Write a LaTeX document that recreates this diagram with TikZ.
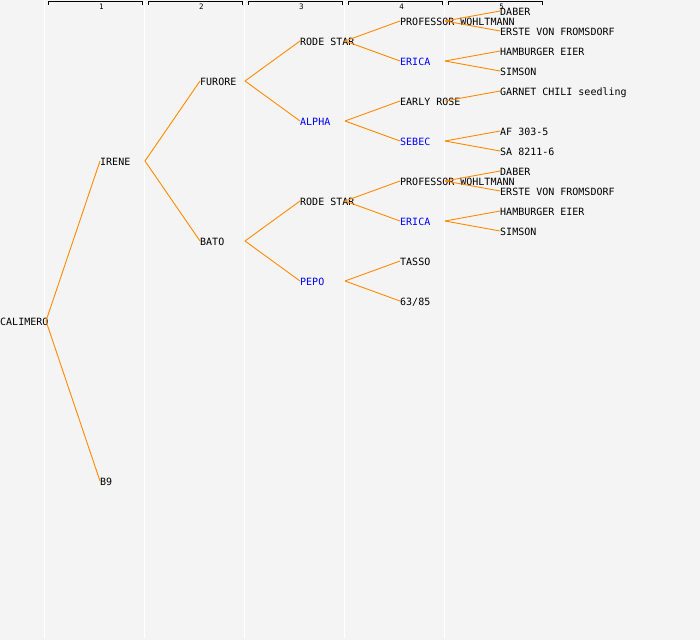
\documentclass[tikz,border=0pt]{standalone}
\usepackage{fontspec}
\setmonofont{DejaVu Sans Mono}
\usepackage{tikz}
\definecolor{bggray}{RGB}{244,244,244}
\definecolor{linkorange}{RGB}{255,136,0}
\definecolor{dambue}{RGB}{0,0,255}
\tikzset{
  plant/.style={anchor=west,inner sep=0pt,text height=9pt,text depth=0pt,
    font=\fontsize{10}{12}\selectfont\ttfamily},
  dam/.style={plant,text=dambue},
  link/.style={draw=linkorange,line width=0.9pt},
  gen/.style={inner sep=0pt,font=\fontsize{7.5}{8}\selectfont\ttfamily},
  sep/.style={draw=white,line width=1.5pt},
  bracket/.style={draw=black,line width=1pt}
}
\begin{document}
\begin{tikzpicture}[x=1pt,y=-1pt]
\fill[bggray] (0,0) rectangle (700,640);
\useasboundingbox (0,0) rectangle (700,640);
%%columns
\draw[sep] (44.5,0) -- (44.5,638);
\draw[sep] (144.5,0) -- (144.5,638);
\draw[sep] (244.5,0) -- (244.5,638);
\draw[sep] (344.5,0) -- (344.5,638);
\draw[sep] (444.5,0) -- (444.5,638);
%%generation header
\draw[bracket] (48,4.5) -- (48,1.5) -- (142,1.5) -- (142,4.5);
\draw[bracket] (148,4.5) -- (148,1.5) -- (242,1.5) -- (242,4.5);
\draw[bracket] (248,4.5) -- (248,1.5) -- (342,1.5) -- (342,4.5);
\draw[bracket] (348,4.5) -- (348,1.5) -- (442,1.5) -- (442,4.5);
\draw[bracket] (448,4.5) -- (448,1.5) -- (542,1.5) -- (542,4.5);
\node[gen] (g1) at (101.5,6.5) {1};
\node[gen] (g2) at (201.5,6.5) {2};
\node[gen] (g3) at (301.5,6.5) {3};
\node[gen] (g4) at (401.5,6.5) {4};
\node[gen] (g5) at (501.5,6.5) {5};

%%pedigree
\node[plant] (t) at (0,321) {CALIMERO};
\node[plant] (t1) at (100,161) {IRENE};
\node[plant] (t2) at (100,481) {B9};
\node[plant] (t11) at (200,81) {FURORE};
\node[plant] (t12) at (200,241) {BATO};
\node[plant] (t111) at (300,41) {RODE STAR};
\node[dam] (t112) at (300,121) {ALPHA};
\node[plant] (t121) at (300,201) {RODE STAR};
\node[dam] (t122) at (300,281) {PEPO};
\node[plant] (t1111) at (400,21) {PROFESSOR WOHLTMANN};
\node[dam] (t1112) at (400,61) {ERICA};
\node[plant] (t1121) at (400,101) {EARLY ROSE};
\node[dam] (t1122) at (400,141) {SEBEC};
\node[plant] (t1211) at (400,181) {PROFESSOR WOHLTMANN};
\node[dam] (t1212) at (400,221) {ERICA};
\node[plant] (t1221) at (400,261) {TASSO};
\node[plant] (t1222) at (400,301) {63/85};
\node[plant] (t11111) at (500,11) {DABER};
\node[plant] (t11112) at (500,31) {ERSTE VON FROMSDORF};
\node[plant] (t11121) at (500,51) {HAMBURGER EIER};
\node[plant] (t11122) at (500,71) {SIMSON};
\node[plant] (t11211) at (500,91) {GARNET CHILI seedling};
\node[plant] (t11221) at (500,131) {AF 303-5};
\node[plant] (t11222) at (500,151) {SA 8211-6};
\node[plant] (t12111) at (500,171) {DABER};
\node[plant] (t12112) at (500,191) {ERSTE VON FROMSDORF};
\node[plant] (t12121) at (500,211) {HAMBURGER EIER};
\node[plant] (t12122) at (500,231) {SIMSON};

%%links
\draw[link] (t.west) ++(46,0) -- (t1.west);
\draw[link] (t.west) ++(46,0) -- (t2.west);
\draw[link] (t1.west) ++(45,0) -- (t11.west);
\draw[link] (t1.west) ++(45,0) -- (t12.west);
\draw[link] (t11.west) ++(45,0) -- (t111.west);
\draw[link] (t11.west) ++(45,0) -- (t112.west);
\draw[link] (t12.west) ++(45,0) -- (t121.west);
\draw[link] (t12.west) ++(45,0) -- (t122.west);
\draw[link] (t111.west) ++(45,0) -- (t1111.west);
\draw[link] (t111.west) ++(45,0) -- (t1112.west);
\draw[link] (t112.west) ++(45,0) -- (t1121.west);
\draw[link] (t112.west) ++(45,0) -- (t1122.west);
\draw[link] (t121.west) ++(45,0) -- (t1211.west);
\draw[link] (t121.west) ++(45,0) -- (t1212.west);
\draw[link] (t122.west) ++(45,0) -- (t1221.west);
\draw[link] (t122.west) ++(45,0) -- (t1222.west);
\draw[link] (t1111.west) ++(45,0) -- (t11111.west);
\draw[link] (t1111.west) ++(45,0) -- (t11112.west);
\draw[link] (t1112.west) ++(45,0) -- (t11121.west);
\draw[link] (t1112.west) ++(45,0) -- (t11122.west);
\draw[link] (t1121.west) ++(45,0) -- (t11211.west);
\draw[link] (t1122.west) ++(45,0) -- (t11221.west);
\draw[link] (t1122.west) ++(45,0) -- (t11222.west);
\draw[link] (t1211.west) ++(45,0) -- (t12111.west);
\draw[link] (t1211.west) ++(45,0) -- (t12112.west);
\draw[link] (t1212.west) ++(45,0) -- (t12121.west);
\draw[link] (t1212.west) ++(45,0) -- (t12122.west);
\end{tikzpicture}
\end{document}
